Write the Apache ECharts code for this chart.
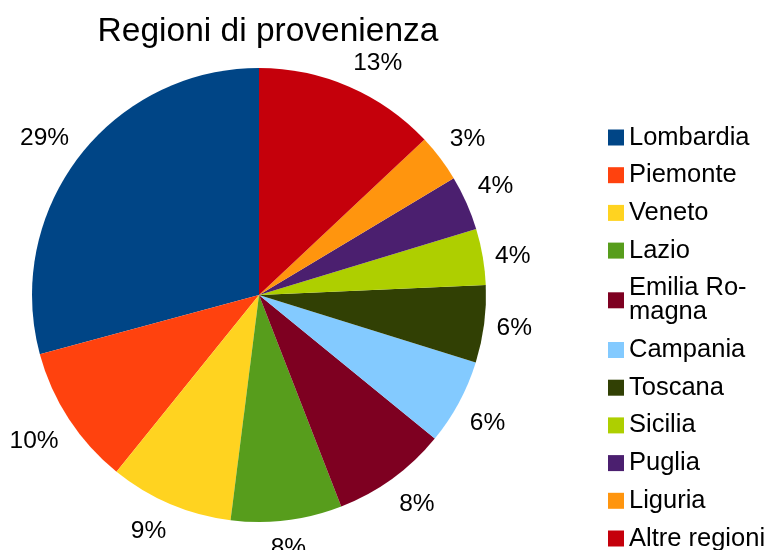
<!DOCTYPE html>
<html>
<head>
<meta charset="utf-8">
<script src="https://cdn.jsdelivr.net/npm/echarts@6/dist/echarts.min.js"></script>
<style>
html,body{margin:0;padding:0;background:#fff;}
#chart{width:770px;height:550px;}
</style>
</head>
<body>
<div id="chart"></div>
<script>
const categories = ["Lombardia","Piemonte","Veneto","Lazio","Emilia Romagna","Campania","Toscana","Sicilia","Puglia","Liguria","Altre regioni"];
const legendLabels = ["Lombardia","Piemonte","Veneto","Lazio","Emilia Ro-\nmagna","Campania","Toscana","Sicilia","Puglia","Liguria","Altre regioni"];
const values = [29.2, 10.0, 8.8, 7.9, 8.2, 6.1, 5.5, 4.0, 3.9, 3.4, 13.0];
const colors = ["#004586","#ff420e","#ffd320","#579d1c","#7e0021","#83caff","#314004","#aecf00","#4b1f6f","#ff950e","#c5000b"];

const FONT = '"Liberation Sans", Arial, sans-serif';
const CX = 259, CY = 295;
const chart = echarts.init(document.getElementById('chart'), null, {renderer:'canvas'});
const labelMap = {};
categories.forEach((c,i)=>labelMap[c]=legendLabels[i]);
const pieData = categories.map((c,i)=>({name:c, value:values[i]}));

chart.setOption({
  animation: false,
  backgroundColor: '#ffffff',
  title: {
    text: 'Regioni di provenienza',
    left: 263, top: 10, textAlign: 'center',
    textStyle: {fontFamily: FONT, fontSize: 33.5, fontWeight: 'normal', color: '#000'}
  },
  legend: {
    orient: 'vertical',
    left: 608, top: 124.5, padding: 0, height: 470,
    itemWidth: 16, itemHeight: 16, itemGap: 11.7,
    icon: 'rect',
    data: categories,
    formatter: name => labelMap[name],
    textStyle: {fontFamily: FONT, fontSize: 25.5, color: '#000', lineHeight: 24}
  },
  series: [{
    type: 'pie',
    center: [CX, CY],
    radius: [0, 227],
    startAngle: 90,
    clockwise: false,
    avoidLabelOverlap: false,
    color: colors,
    label: {show: false},
    labelLine: {show: false},
    itemStyle: {borderWidth: 0},
    emphasis: {disabled: true},
    z: 2,
    data: pieData
  }, {
    // transparent pie used only to anchor the percent labels around the slices
    type: 'pie',
    center: [CX, CY],
    radius: [0, 476],
    startAngle: 90,
    clockwise: false,
    avoidLabelOverlap: false,
    silent: true,
    legendHoverLink: false,
    itemStyle: {color: 'rgba(0,0,0,0)', borderWidth: 0},
    label: {
      show: true, position: 'inside',
      formatter: p => Math.round(p.value) + '%',
      fontFamily: FONT, fontSize: 24.5, color: '#000'
    },
    labelLine: {show: false},
    labelLayout: function (p) {
      const r = p.labelRect;
      const mx = r.x + r.width / 2 - CX, my = r.y + r.height / 2 - CY;
      const k = Math.round(Math.atan2(my, mx) / (Math.PI / 4));
      const sx = Math.round(Math.cos(k * Math.PI / 4));
      const sy = Math.round(Math.sin(k * Math.PI / 4));
      return {dx: sx * (r.width / 2 - 1.5), dy: sy * r.height / 2 + 2};
    },
    emphasis: {disabled: true},
    z: 1,
    data: pieData
  }]
});
</script>
</body>
</html>
